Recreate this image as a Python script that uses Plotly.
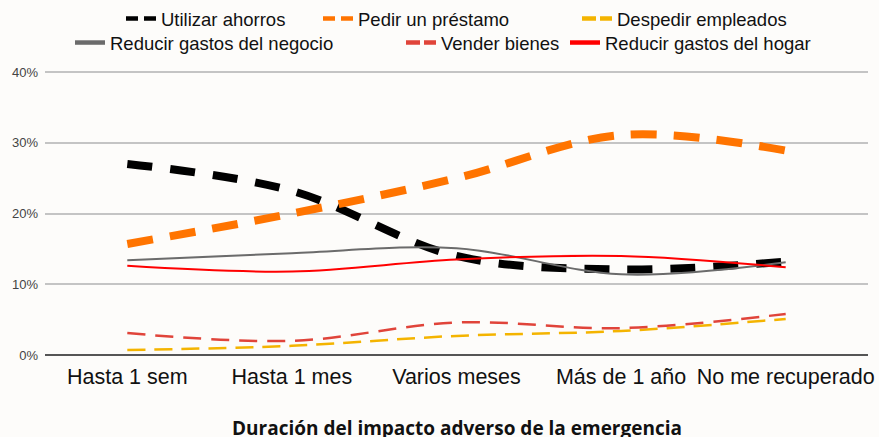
import plotly.graph_objects as go

categories = ["Hasta 1 sem", "Hasta 1 mes", "Varios meses", "Más de 1 año", "No me recuperado"]
utilizar_ahorros = [27.0, 23.2, 14.0, 12.1, 13.2]
pedir_prestamo = [15.7, 20.0, 25.0, 31.1, 28.9]
despedir_empleados = [0.7, 1.3, 2.7, 3.4, 5.1]
reducir_negocio = [13.4, 14.4, 15.1, 11.4, 13.1]
vender_bienes = [3.1, 2.0, 4.6, 3.8, 5.8]
reducir_hogar = [12.6, 11.8, 13.5, 14.0, 12.4]
y_ticks = [0, 10, 20, 30, 40]
y_tick_labels = ["0%", "10%", "20%", "30%", "40%"]
x_title = "Duración del impacto adverso de la emergencia"

FONT = "Liberation Sans, Arial, sans-serif"

# name, values, color, width, dash, legend dash, legend text-start x (px), legend row y (px)
series = [
    ("Utilizar ahorros", utilizar_ahorros, "#000000", 8, "25px,18px", "12px,6px", 163, 19),
    ("Pedir un préstamo", pedir_prestamo, "#ff7400", 8, "26px,17px", "12px,6px", 360, 19),
    ("Despedir empleados", despedir_empleados, "#f4b400", 2.5, "18px,9px", "14px,4px", 619, 19),
    ("Reducir gastos del negocio", reducir_negocio, "#6b6b6b", 2, "solid", "solid", 112, 43),
    ("Vender bienes", vender_bienes, "#e0443a", 2.5, "18px,10px", "14px,4px", 443, 43),
    ("Reducir gastos del hogar", reducir_hogar, "#ff0000", 2, "solid", "solid", 607, 43),
]

W, H = 879, 437
M_T, M_B = 71, 82
plot_h = H - M_T - M_B
fig = go.Figure()
legends = {}
for i, (name, vals, color, w, dash, ldash, tx, ty) in enumerate(series):
    fig.add_trace(go.Scatter(
        x=categories, y=vals, name=name, mode="lines", showlegend=False,
        line=dict(color=color, width=w, dash=dash, shape="spline", smoothing=1.0),
    ))
    lg = "legend" if i == 0 else f"legend{i + 1}"
    fig.add_trace(go.Scatter(
        x=[None], y=[None], name=name, mode="lines", legend=lg, showlegend=True,
        line=dict(color=color, width=4.5, dash=ldash),
    ))
    legends[lg] = dict(orientation="h", xref="container", yref="container",
                       x=(tx - 42) / W, xanchor="left",
                       y=1 - ty / H, yanchor="middle",
                       font=dict(size=18.5, family=FONT, color="#111111"),
                       bgcolor="rgba(0,0,0,0)", borderwidth=0)

fig.update_layout(
    width=W, height=H,
    margin=dict(l=45, r=11, t=M_T, b=M_B, autoexpand=False),
    paper_bgcolor="#fdfcfa", plot_bgcolor="#fdfcfa",
    font=dict(family=FONT, color="#222222"),
    showlegend=True,
    xaxis=dict(type="category", range=[-0.5, 4.5],
               tickfont=dict(size=21.5, family=FONT, color="#111111"),
               showgrid=False, showline=False, ticks="", zeroline=False,
               ticklabelstandoff=6),
    yaxis=dict(range=[0, 40.15], tickvals=y_ticks, ticktext=y_tick_labels,
               tickfont=dict(size=13, family=FONT, color="#444444"),
               showgrid=True, gridcolor="#c4c4c4", gridwidth=2,
               zeroline=True, zerolinecolor="#555555", zerolinewidth=2,
               showline=False, ticks="", ticklabelstandoff=6),
    annotations=[dict(text=f"<b>{x_title}</b>", xref="paper", yref="paper",
                      x=0.5, y=(H - M_B - 428) / plot_h, xanchor="center", yanchor="middle",
                      showarrow=False,
                      font=dict(family="Open Sans, sans-serif", size=19, color="#111111"))],
)
fig.update_layout(**legends)

fig.write_html("out.html", config={"displayModeBar": False},
               post_script="document.body.style.margin='0';")
